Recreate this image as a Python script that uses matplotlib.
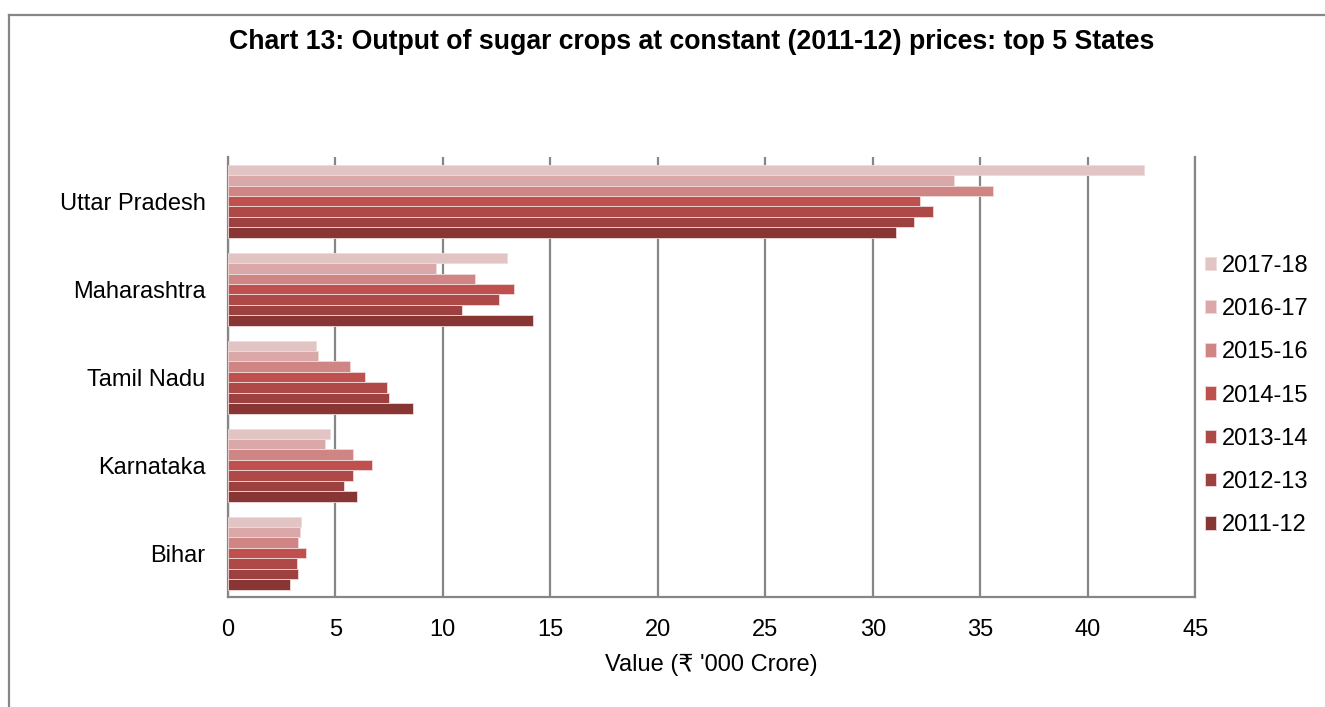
import matplotlib
matplotlib.use('Agg')
import matplotlib.pyplot as plt
import numpy as np

plt.rcParams['font.family'] = ['Liberation Sans', 'DejaVu Sans']

# ============================================================
# Data (Rs '000 crore)
# ============================================================

states = ['Uttar Pradesh', 'Maharashtra', 'Tamil Nadu', 'Karnataka', 'Bihar']
years = ['2011-12', '2012-13', '2013-14', '2014-15',
         '2015-16', '2016-17', '2017-18']

v_2011_12 = [31.1, 14.2, 8.6, 6.0, 2.9]
v_2012_13 = [31.9, 10.9, 7.5, 5.4, 3.25]
v_2013_14 = [32.8, 12.6, 7.4, 5.8, 3.2]
v_2014_15 = [32.2, 13.3, 6.4, 6.7, 3.65]
v_2015_16 = [35.6, 11.5, 5.7, 5.8, 3.25]
v_2016_17 = [33.8, 9.7, 4.2, 4.5, 3.35]
v_2017_18 = [42.6, 13.0, 4.1, 4.75, 3.4]

series = [v_2011_12, v_2012_13, v_2013_14, v_2014_15,
          v_2015_16, v_2016_17, v_2017_18]
colors = ['#873634', '#9c413f', '#ad4946', '#c0504d',
          '#ce8583', '#daa8a8', '#e3c4c4']

# ============================================================
# Plot
# ============================================================

fig = plt.figure(figsize=(13.25, 7.07), dpi=100)
ax = fig.add_axes([0.172, 0.1556, 0.730, 0.622])

n = len(series)
group_h = 0.83
bar_h = group_h / n
ypos = np.arange(len(states))[::-1]

handles = []
for i, (vals, col, yr) in enumerate(zip(series, colors, years)):
    # oldest year at the bottom of each group
    offset = -group_h / 2 + bar_h * (i + 0.5)
    h = ax.barh(ypos + offset, vals, height=bar_h, color=col,
                edgecolor='#f0dada', linewidth=0.6, label=yr, zorder=3)
    handles.append(h)

ax.set_xlim(0, 45)
ax.set_ylim(-0.5, len(states) - 0.5)
ax.set_xticks(np.arange(0, 46, 5))
ax.set_yticks(ypos)
ax.set_yticklabels(states)
ax.tick_params(axis='both', length=0, labelsize=17, colors='black')
ax.tick_params(axis='x', pad=16)
ax.tick_params(axis='y', pad=16)
ax.grid(True, axis='x', color='#868686', linewidth=1.6, zorder=0)
ax.set_axisbelow(True)

for side in ['left', 'bottom', 'right']:
    ax.spines[side].set_color('#868686')
    ax.spines[side].set_linewidth(1.6)
ax.spines['top'].set_visible(False)

ax.set_xlabel("Value (\u20b9 '000 Crore)", fontsize=17, labelpad=9)

fig.text(692 / 1325, 0.94,
         'Chart 13: Output of sugar crops at constant (2011-12) prices: top 5 States',
         ha='center', va='center', fontsize=19.2, fontweight='bold')

leg = ax.legend(handles[::-1], years[::-1], loc='center left',
                bbox_to_anchor=(1.0, 0.458), frameon=False, fontsize=17,
                handlelength=0.5, handleheight=0.5, handletextpad=0.25,
                labelspacing=0.9, borderaxespad=0.0)

# chart border (top and left edges visible in the crop)
fig.add_artist(plt.Line2D([9 / 1325, 1.0], [1 - 15 / 707, 1 - 15 / 707],
                          color='#868686', linewidth=1.6,
                          transform=fig.transFigure))
fig.add_artist(plt.Line2D([9 / 1325, 9 / 1325], [0.0, 1 - 15 / 707],
                          color='#868686', linewidth=1.6,
                          transform=fig.transFigure))

fig.savefig('out.png', dpi=100)
